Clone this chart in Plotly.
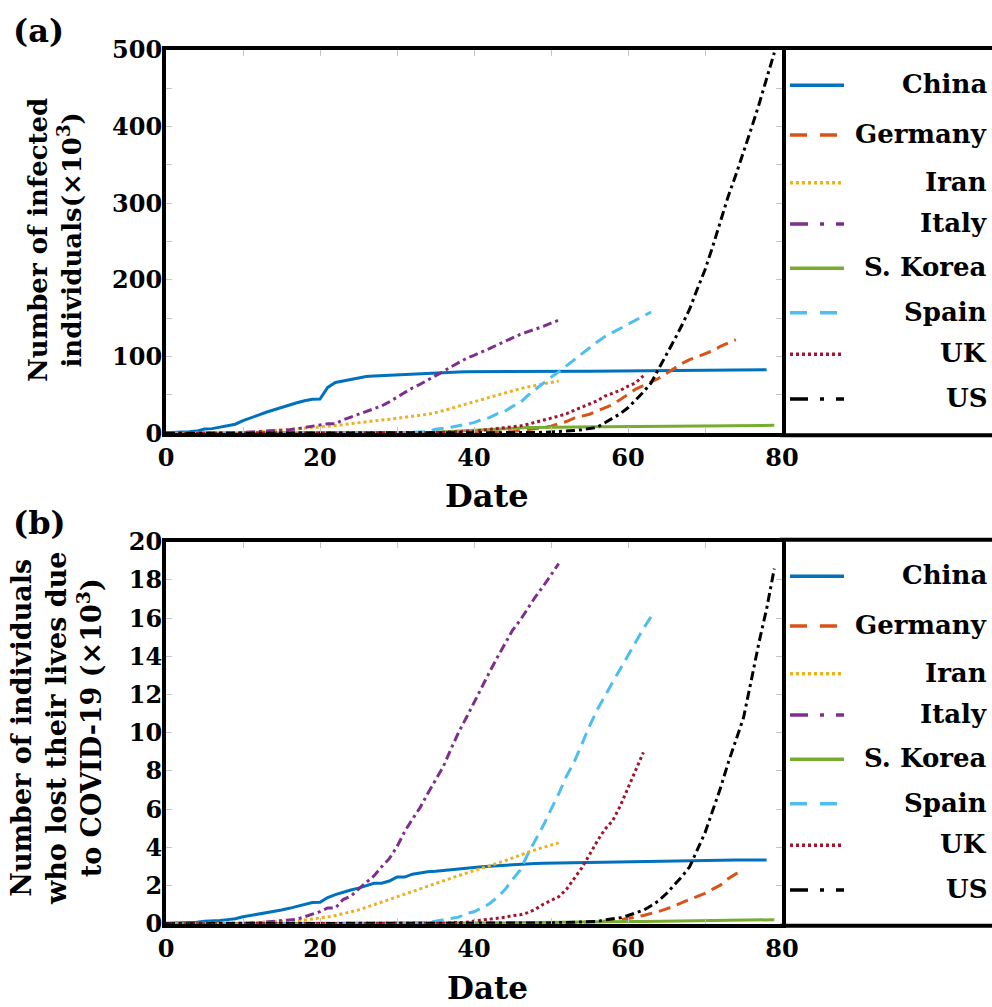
import plotly.graph_objects as go

# ---------------- data (values in thousands) ----------------
countries = ["China", "Germany", "Iran", "Italy", "S. Korea", "Spain", "UK", "US"]
colors = ["#0072BD", "#D95319", "#EDB120", "#7E2F8E", "#77AC30", "#4DBEEE", "#A2142F", "#000000"]

cases_china = [0.64, 0.92, 1.41, 2.08, 2.88, 5.51, 6.09, 8.14, 9.80, 11.89,
               16.63, 19.72, 23.71, 27.44, 30.59, 34.11, 36.81, 39.83, 42.35, 44.39,
               44.76, 59.90, 66.36, 68.41, 70.51, 72.43, 74.21, 74.62, 75.08, 75.55,
               77.00, 77.02, 77.24, 77.75, 78.17, 78.60, 78.93, 79.36, 79.93, 80.14,
               80.26, 80.39, 80.54, 80.69, 80.77, 80.82, 80.86, 80.89, 80.92, 80.93,
               80.95, 80.98, 81.00, 81.03, 81.06, 81.10, 81.16, 81.25, 81.31, 81.44,
               81.50, 81.59, 81.66, 81.78, 81.90, 82.00, 82.12, 82.20, 82.28, 82.36,
               82.43, 82.51, 82.54, 82.60, 82.67, 82.72, 82.81, 82.88, 82.94]
cases_germany = [0.001, 0.004, 0.004, 0.004, 0.005,
                 0.008, 0.010, 0.012, 0.012, 0.012, 0.012, 0.013, 0.013, 0.014, 0.014,
                 0.016, 0.016, 0.016, 0.016, 0.016, 0.016, 0.016, 0.016, 0.016, 0.016,
                 0.016, 0.016, 0.016, 0.016, 0.017, 0.027, 0.046, 0.048, 0.079,
                 0.130, 0.159, 0.196, 0.262, 0.482, 0.670, 0.799, 1.040, 1.176, 1.457,
                 1.908, 2.078, 3.675, 4.585, 5.795, 7.272, 9.257, 12.33, 15.32, 19.85,
                 22.21, 24.87, 29.06, 32.99, 37.32, 43.94, 50.87, 57.70, 62.10, 66.89, 71.81,
                 77.87, 84.79, 91.16, 96.09, 100.12, 103.37, 107.66, 113.30, 118.18, 122.17]
cases_iran = [0.002, 0.005, 0.018, 0.028, 0.043, 0.061, 0.095, 0.139, 0.245, 0.388, 0.593,
              0.978, 1.501, 2.336, 2.922, 3.513, 4.747, 5.823, 6.566, 7.161, 8.042,
              9.000, 10.08, 11.36, 12.73, 13.94, 14.99, 16.17, 17.36, 18.41, 19.64,
              20.61, 21.64, 23.05, 24.81, 27.02, 29.41, 32.33, 35.41, 38.31, 41.50, 44.61,
              47.59, 50.47, 53.18, 55.74, 58.23, 60.50, 62.59, 64.59, 66.22, 68.19]
cases_italy = [0.003, 0.003, 0.020, 0.062, 0.155, 0.229, 0.322, 0.453, 0.655, 0.888, 1.128,
               1.694, 2.036, 2.502, 3.089, 3.858, 4.636, 5.883, 7.375, 9.172, 10.15,
               12.46, 12.46, 17.66, 21.16, 24.75, 27.98, 31.51, 35.71, 41.04, 47.02,
               53.58, 59.14, 63.93, 69.18, 74.39, 80.59, 86.50, 92.47, 97.69, 101.74, 105.79,
               110.57, 115.24, 119.83, 124.63, 128.95, 132.55, 135.59, 139.42, 143.63, 147.58]
cases_korea = [0.001, 0.001, 0.002, 0.002, 0.003, 0.004, 0.004, 0.004, 0.004, 0.011,
               0.012, 0.015, 0.015, 0.016, 0.019, 0.023, 0.024, 0.024, 0.025, 0.027,
               0.028, 0.028, 0.028, 0.028, 0.028, 0.029, 0.030, 0.031, 0.031, 0.104,
               0.204, 0.433, 0.602, 0.833, 0.977, 1.261, 1.766, 2.337, 3.150,
               3.736, 4.335, 5.186, 5.621, 6.088, 6.593, 7.041, 7.314, 7.478, 7.513,
               7.755, 7.869, 7.979, 8.086, 8.162, 8.236, 8.320, 8.413, 8.565, 8.652,
               8.799, 8.897, 8.961, 9.037, 9.137, 9.241, 9.332, 9.478, 9.583, 9.661, 9.786,
               9.887, 9.976, 10.06, 10.16, 10.24, 10.28, 10.33, 10.38, 10.42, 10.45]
cases_spain = [0.001, 0.001, 0.002, 0.002, 0.002, 0.002, 0.002, 0.002, 0.002, 0.002,
               0.002, 0.002, 0.002, 0.002, 0.002, 0.002, 0.002, 0.002, 0.006, 0.013,
               0.015, 0.032, 0.045,
               0.084, 0.120, 0.165, 0.222, 0.259, 0.400, 0.500, 0.673, 1.073, 1.695,
               2.277, 2.277, 5.232, 6.391, 7.798, 9.942, 11.75, 13.91, 17.96, 20.41,
               25.37, 28.77, 35.14, 39.89, 49.52, 57.79, 65.72, 73.24, 80.11, 87.96, 95.92,
               104.12, 112.07, 119.20, 126.17, 131.65, 136.68, 141.94, 148.22, 153.22, 158.27]
cases_uk = [0.003, 0.003, 0.008, 0.008, 0.009, 0.009, 0.009, 0.009, 0.009, 0.009,
            0.009, 0.009, 0.009, 0.009, 0.009, 0.009, 0.009, 0.013, 0.013, 0.015,
            0.020, 0.023,
            0.036, 0.040, 0.051, 0.086, 0.116, 0.164, 0.207, 0.274, 0.322, 0.384,
            0.459, 0.459, 0.802, 1.144, 1.145, 1.551, 1.960, 2.642, 2.716, 4.014,
            5.067, 5.745, 6.726, 8.164, 9.640, 11.81, 14.75, 17.31, 19.78, 22.45, 25.48,
            29.87, 34.17, 38.69, 42.48, 48.44, 52.28, 55.95, 61.47, 65.87, 75.0]
cases_us = [0.001, 0.001, 0.002, 0.002, 0.005, 0.005, 0.005, 0.005, 0.005, 0.006,
            0.008, 0.008, 0.011, 0.011, 0.012, 0.012, 0.012, 0.012, 0.012, 0.012,
            0.013, 0.013, 0.015, 0.015, 0.015, 0.015, 0.015, 0.015, 0.015, 0.015,
            0.015, 0.015, 0.015, 0.015, 0.015, 0.015, 0.016, 0.016, 0.024,
            0.030, 0.053, 0.073, 0.104, 0.174, 0.222, 0.337, 0.451, 0.519, 0.959,
            1.281, 1.663, 2.179, 2.726, 3.499, 4.632, 6.421, 7.783, 13.75, 19.27,
            25.60, 33.28, 43.84, 53.74, 65.78, 83.84, 101.66, 121.47, 140.91, 161.83, 188.17,
            213.24, 243.62, 275.37, 308.65, 336.80, 366.32, 397.12, 428.65, 462.78, 496.54]

deaths_china = [0.018, 0.026, 0.042, 0.056, 0.082, 0.131, 0.133, 0.171, 0.213,
                0.259, 0.361, 0.425, 0.490, 0.562, 0.632, 0.717, 0.804, 0.904, 1.011,
                1.111, 1.116, 1.368, 1.520, 1.662, 1.765, 1.863, 2.002, 2.114, 2.118,
                2.236, 2.441, 2.443, 2.593, 2.663, 2.715, 2.744, 2.788, 2.835,
                2.870, 2.912, 2.943, 2.981, 3.013, 3.042, 3.070, 3.097, 3.120, 3.136,
                3.158, 3.169, 3.176, 3.189, 3.199, 3.213, 3.226, 3.237, 3.245, 3.249,
                3.253, 3.259, 3.274, 3.274, 3.285, 3.291, 3.296, 3.299, 3.304, 3.308, 3.309,
                3.316, 3.322, 3.326, 3.330, 3.333, 3.335, 3.335, 3.337, 3.339, 3.340]
deaths_germany = [0.0] * 43 + [
                  0.002, 0.002, 0.003, 0.003, 0.007, 0.009, 0.011, 0.017, 0.024, 0.028,
                  0.044, 0.067, 0.084, 0.094, 0.123, 0.157, 0.206, 0.267, 0.342, 0.433,
                  0.533, 0.645, 0.775,
                  0.920, 1.107, 1.275, 1.444, 1.584, 1.810, 2.016, 2.349, 2.607, 2.767]
deaths_iran = [0.002, 0.002, 0.004, 0.005, 0.008, 0.012, 0.016, 0.019, 0.026, 0.034, 0.043,
               0.054, 0.066, 0.077, 0.092, 0.107, 0.124, 0.145, 0.194, 0.237, 0.291,
               0.354, 0.429, 0.514, 0.611, 0.724, 0.853, 0.988, 1.135, 1.284, 1.433,
               1.556, 1.685, 1.812, 1.934, 2.077, 2.234, 2.378, 2.517, 2.640, 2.757, 2.898,
               3.036, 3.160, 3.294, 3.452, 3.603, 3.739, 3.872, 3.993, 4.110, 4.232]
deaths_italy = [0.0, 0.0, 0.001, 0.002, 0.003, 0.007, 0.010, 0.012, 0.017, 0.021, 0.029,
                0.034, 0.052, 0.079, 0.107, 0.148, 0.197, 0.233, 0.366, 0.463, 0.631,
                0.827, 0.827, 1.266, 1.441, 1.809, 2.158, 2.503, 2.978, 3.405, 4.032,
                4.825, 5.476, 6.077, 6.820, 7.503, 8.215, 9.134, 10.02, 10.78, 11.59, 12.43,
                13.16, 13.92, 14.68, 15.36, 15.89, 16.52, 17.13, 17.67, 18.28, 18.85]
deaths_korea = [0.0] * 29 + [
                0.001, 0.002, 0.002, 0.006, 0.008, 0.010, 0.012, 0.013, 0.013, 0.016,
                0.017, 0.028, 0.028, 0.035, 0.035, 0.042, 0.044, 0.050, 0.053, 0.054,
                0.060, 0.066, 0.066, 0.072, 0.075, 0.075, 0.081, 0.084, 0.091, 0.094,
                0.102, 0.104, 0.111, 0.120, 0.126, 0.131, 0.139, 0.144, 0.152, 0.158, 0.162,
                0.165, 0.169, 0.174, 0.177, 0.183, 0.186, 0.192, 0.200, 0.204, 0.208]
deaths_spain = [0.0] * 25 + [
                0.001, 0.002, 0.003, 0.005, 0.010, 0.017, 0.028, 0.035, 0.054, 0.055,
                0.133, 0.195, 0.289, 0.342, 0.533, 0.623, 0.830, 1.043, 1.375, 1.772,
                2.311, 2.808, 3.647, 4.365, 5.138, 5.982, 6.803, 7.716, 8.464,
                9.387, 10.35, 11.20, 11.95, 12.64, 13.34, 14.05, 14.79, 15.45, 16.08]
deaths_uk = [0.0] * 26 + [
             0.001, 0.002, 0.002, 0.003, 0.004, 0.006, 0.008, 0.008, 0.008, 0.021,
             0.021, 0.056, 0.056, 0.072, 0.138, 0.178, 0.234, 0.282, 0.336, 0.423,
             0.466, 0.580, 0.761, 1.021, 1.231, 1.411, 1.793,
             2.357, 2.926, 3.611, 4.320, 4.943, 5.385, 6.171, 7.111, 7.993, 8.974]
deaths_us = [0.0] * 38 + [0.001,
             0.001, 0.006, 0.007, 0.011, 0.012, 0.014, 0.017, 0.021, 0.022, 0.028,
             0.036, 0.040, 0.047, 0.054, 0.063, 0.085, 0.108, 0.118, 0.200, 0.244,
             0.307, 0.427, 0.552, 0.706, 0.942, 1.209, 1.581, 2.026, 2.467, 2.978, 3.873,
             4.757, 5.926, 7.087, 8.407, 9.619, 10.78, 12.72, 14.70, 16.48, 18.59]

cases = [cases_china, cases_germany, cases_iran, cases_italy,
         cases_korea, cases_spain, cases_uk, cases_us]
deaths = [deaths_china, deaths_germany, deaths_iran, deaths_italy,
          deaths_korea, deaths_spain, deaths_uk, deaths_us]

x_ticks = [0, 20, 40, 60, 80]
y1_ticks = [0, 100, 200, 300, 400, 500]
y2_ticks = [0, 2, 4, 6, 8, 10, 12, 14, 16, 18, 20]

# ---------------- styling ----------------
W, H = 992, 1007
FONT = "DejaVu Serif"
plot_dash = ["solid", "12px,7px", "3px,3px", "9px,4px,3px,4px",
             "solid", "12px,7px", "3px,3px", "9px,4px,3px,4px"]
leg_dash = ["solid", "17px,13px", "3px,3px", "18px,12px,4px,12px",
            "solid", "17px,13px", "3px,3px", "18px,12px,4px,12px"]
TICKGRAY = "#c4c4c4"

def px(xp):
    return xp / W

def py(yp):
    return 1 - yp / H

x_dom = [px(166), px(782)]
top_dom = [py(433.3), py(50)]
bot_dom = [py(923.7), py(541.7)]

fig = go.Figure()
for i, name in enumerate(countries):
    fig.add_trace(go.Scatter(x=list(range(len(cases[i]))), y=cases[i], mode="lines",
                             name=name, line=dict(color=colors[i], width=3, dash=plot_dash[i]),
                             xaxis="x", yaxis="y", showlegend=False))
for i, name in enumerate(countries):
    fig.add_trace(go.Scatter(x=list(range(len(deaths[i]))), y=deaths[i], mode="lines",
                             name=name, line=dict(color=colors[i], width=3, dash=plot_dash[i]),
                             xaxis="x2", yaxis="y2", showlegend=False))

tickfont = dict(family=FONT, size=24, color="black", weight="bold")
common_x = dict(range=[0, 80], domain=x_dom, tickvals=x_ticks, ticks="inside", ticklen=6,
                tickwidth=1, tickcolor=TICKGRAY, showline=True, linewidth=4, linecolor="black",
                mirror="allticks", showgrid=False, zeroline=False, tickfont=tickfont,
                automargin=False,
                minor=dict(dtick=10, tick0=0, ticks="inside", ticklen=6, tickwidth=1,
                           tickcolor=TICKGRAY, showgrid=False))
common_y = dict(ticks="inside", ticklen=6, tickwidth=1, tickcolor=TICKGRAY, showline=True,
                linewidth=4, linecolor="black", mirror="allticks", showgrid=False,
                zeroline=False, tickfont=tickfont, automargin=False, ticklabelstandoff=-5)
fig.update_layout(
    width=W, height=H, margin=dict(l=0, r=0, t=0, b=0, pad=0, autoexpand=False),
    plot_bgcolor="white", paper_bgcolor="white",
    xaxis=dict(anchor="y", **common_x),
    xaxis2=dict(anchor="y2", **common_x),
    yaxis=dict(range=[0, 500], domain=top_dom, tickvals=y1_ticks, anchor="x",
               minor=dict(dtick=50, tick0=0, ticks="inside", ticklen=6, tickwidth=1,
                          tickcolor=TICKGRAY, showgrid=False), **common_y),
    yaxis2=dict(range=[0, 20], domain=bot_dom, tickvals=y2_ticks, anchor="x2", **common_y),
)

# frame extension around the legend boxes
shapes = []
for ytop, ybot in [(48, 435.3), (539.7, 925.7)]:
    for yy in (ytop, ybot):
        shapes.append(dict(type="line", xref="paper", yref="paper", x0=px(780), x1=1.0,
                           y0=py(yy), y1=py(yy), line=dict(color="black", width=4)))

# legends (one per panel)
leg_y_top = [85.3, 135, 182.7, 224, 268.3, 312.7, 354.3, 399]
annotations = []
for off in (0, 491):
    for i, name in enumerate(countries):
        yy = leg_y_top[i] + off
        shapes.append(dict(type="line", xref="paper", yref="paper", x0=px(790), x1=px(844),
                           y0=py(yy), y1=py(yy),
                           line=dict(color=colors[i], width=3.5, dash=leg_dash[i])))
        annotations.append(dict(text=name, xref="paper", yref="paper", x=px(989), y=py(yy - 1),
                                xanchor="right", yanchor="middle", showarrow=False,
                                font=dict(family=FONT, size=26, color="black", weight="bold")))

lab = dict(family=FONT, color="black", weight="bold")
annotations += [
    dict(text="(a)", x=px(38), y=py(31), xref="paper", yref="paper", showarrow=False,
         xanchor="center", yanchor="middle", font=dict(size=32, **lab)),
    dict(text="(b)", x=px(39), y=py(523), xref="paper", yref="paper", showarrow=False,
         xanchor="center", yanchor="middle", font=dict(size=32, **lab)),
    dict(text="Date", x=px(487), y=py(496), xref="paper", yref="paper", showarrow=False,
         xanchor="center", yanchor="middle", font=dict(size=32, **lab)),
    dict(text="Date", x=px(487), y=py(988), xref="paper", yref="paper", showarrow=False,
         xanchor="center", yanchor="middle", font=dict(size=31, **lab)),
    dict(text="Number of infected<br>individuals(×10<sup>3</sup>)", x=px(55), y=py(240),
         xref="paper", yref="paper", showarrow=False, textangle=-90,
         xanchor="center", yanchor="middle", font=dict(size=26, **lab)),
    dict(text="Number of individuals<br>who lost their lives due<br>to COVID-19 (×10<sup>3</sup>)",
         x=px(56), y=py(729), xref="paper", yref="paper", showarrow=False, textangle=-90,
         xanchor="center", yanchor="middle", font=dict(size=27, **lab)),
]
fig.update_layout(shapes=shapes, annotations=annotations)

fig.write_html("out.html")
